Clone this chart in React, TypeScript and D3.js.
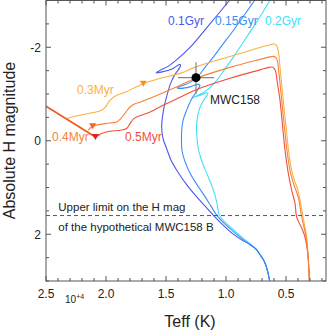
import React from 'react';
import * as d3 from 'd3';

// Teff in units of 10^4 K, absolute H magnitude
const tempMajorTicks = [2.5, 2.0, 1.5, 1.0, 0.5];
const tempTickLabels = ['2.5', '2.0', '1.5', '1.0', '0.5'];
const tempMinorTicks = d3.range(2.5, 0.15, -0.1).map(v => +v.toFixed(2));
const magMajorTicks = [-2, 0, 2];
const magTickLabels = ['-2', '0', '2'];
const magMinorTicks = [-3, -2.5, -1.5, -1, -0.5, 0.5, 1, 1.5, 2.5, 3];

const birthline: [number, number][] = [[2.5, -0.74], [2.088, -0.081]];

const iso03Myr: [number, number][] = [
  [2.328, -0.474], [2.217, -0.544], [2.117, -0.598], [2.036, -0.651], [2.0, -0.737],
  [1.967, -0.865], [1.911, -0.972], [1.842, -1.036], [1.689, -1.221], [1.55, -1.335],
  [1.383, -1.441], [1.25, -1.58], [0.967, -1.804], [0.717, -1.996], [0.625, -2.06],
  [0.6, -2.071], [0.579, -2.039], [0.567, -1.954], [0.558, -1.804], [0.55, -1.576],
  [0.523, -0.865], [0.494, -0.16], [0.479, 0.203], [0.453, 0.63], [0.425, 0.886],
  [0.408, 0.993], [0.383, 1.27], [0.361, 1.591], [0.328, 2.06], [0.317, 2.445], [0.304, 3.043],
];

const iso04Myr: [number, number][] = [
  [2.15, -0.224], [2.111, -0.31], [2.008, -0.367], [1.911, -0.401], [1.883, -0.459],
  [1.842, -0.587], [1.8, -0.722], [1.758, -0.79], [1.717, -0.822], [1.523, -1.025],
  [1.383, -1.185], [1.25, -1.335], [0.967, -1.569], [0.717, -1.74], [0.633, -1.794],
  [0.606, -1.804], [0.583, -1.772], [0.571, -1.698], [0.563, -1.548], [0.536, -0.865],
  [0.508, -0.16], [0.492, 0.203], [0.467, 0.63], [0.439, 0.907], [0.398, 1.206],
  [0.369, 1.633], [0.333, 2.06], [0.317, 2.445], [0.304, 3.043],
];

const iso05Myr: [number, number][] = [
  [2.088, -0.081], [2.067, -0.107], [2.036, -0.154], [1.967, -0.203], [1.883, -0.224],
  [1.828, -0.261], [1.8, -0.367], [1.775, -0.459], [1.744, -0.508], [1.633, -0.615],
  [1.508, -0.779], [1.383, -0.929], [1.25, -1.089], [0.967, -1.335], [0.717, -1.516],
  [0.642, -1.569], [0.619, -1.576], [0.596, -1.537], [0.583, -1.441], [0.575, -1.292],
  [0.55, -0.865], [0.523, -0.16], [0.508, 0.203], [0.481, 0.694], [0.453, 1.057],
  [0.425, 1.334], [0.411, 1.633], [0.369, 1.868], [0.342, 2.06], [0.317, 2.445], [0.304, 3.043],
];

const msTail: [number, number][] = [
  [0.75, 2.317], [0.717, 2.434], [0.692, 2.53], [0.675, 2.616], [0.658, 2.744],
  [0.646, 2.872], [0.633, 3.043],
];

const iso01Gyr: [number, number][] = [
  [0.958, -3.043], [1.158, -2.423], [1.3, -1.996], [1.417, -1.719], [1.483, -1.591],
  [1.55, -1.505], [1.583, -1.452], [1.533, -1.473], [1.45, -1.537], [1.383, -1.633],
  [1.379, -1.601], [1.425, -1.42], [1.458, -1.249], [1.492, -0.972], [1.521, -0.651],
  [1.536, -0.295], [1.525, -0.053], [1.496, 0.16], [1.458, 0.416], [1.4, 0.673],
  [1.325, 0.95], [1.242, 1.206], [1.167, 1.42], [1.106, 1.591], [1.033, 1.783],
  [0.95, 1.975], [0.867, 2.125], [0.8, 2.221], ...msTail,
];

const iso015Gyr: [number, number][] = [
  [0.75, -3.043], [0.85, -2.68], [0.939, -2.359], [1.033, -2.039], [1.106, -1.789],
  [1.175, -1.569], [1.233, -1.377], [1.3, -1.249], [1.367, -1.174], [1.408, -1.132],
  [1.375, -1.121], [1.3, -1.153], [1.233, -1.206], [1.217, -1.185], [1.25, -1.036],
  [1.292, -0.865], [1.328, -0.651], [1.358, -0.438], [1.369, -0.224], [1.371, -0.011],
  [1.367, 0.203], [1.346, 0.416], [1.308, 0.651], [1.25, 0.907], [1.183, 1.164],
  [1.125, 1.399], [1.078, 1.591], [1.017, 1.762], [0.942, 1.932], [0.867, 2.093],
  [0.8, 2.221], ...msTail,
];

const iso02Gyr: [number, number][] = [
  [0.625, -3.043], [0.7, -2.722], [0.773, -2.43], [0.858, -2.103], [0.939, -1.789],
  [1.017, -1.505], [1.078, -1.292], [1.133, -1.142], [1.175, -1.057], [1.225, -0.982],
  [1.267, -0.929], [1.225, -0.961], [1.167, -1.025], [1.15, -1.014], [1.183, -0.886],
  [1.217, -0.715], [1.238, -0.502], [1.246, -0.288], [1.242, -0.075], [1.233, 0.139],
  [1.217, 0.31], [1.192, 0.502], [1.15, 0.758], [1.108, 1.036], [1.075, 1.334],
  [1.056, 1.591], [1.008, 1.74], [0.933, 1.911], [0.858, 2.082], [0.8, 2.199], ...msTail,
];

const triangleMarkers: [number, number][] = [[1.689, -1.221], [2.111, -0.31], [2.088, -0.081]];

const starTeff = 1.25;
const starMag = -1.35;
const starTeffErr = [1.4, 1.1];
const starMagErr = [-1.68, -1.0];
const upperLimitMag = 1.6;

const W = 327, H = 331;
const L = 46, R = 326, T = 0.5, B = 281;
const FONT = 'Liberation Sans, Arial, Helvetica, sans-serif';

export default function App() {
  const x = d3.scaleLinear().domain([2.5, 0.1667]).range([L, R]);
  const y = d3.scaleLinear().domain([-3, 3]).range([T, B]);
  const line = d3.line<[number, number]>().x(d => x(d[0])).y(d => y(d[1])).curve(d3.curveCatmullRom.alpha(0.5));
  const straight = d3.line<[number, number]>().x(d => x(d[0])).y(d => y(d[1]));
  const axisColor = '#555';

  const curves = [
    { d: iso02Gyr, c: '#40e0fb' },
    { d: iso01Gyr, c: '#4a58ea' },
    { d: iso015Gyr, c: '#3a8ef5' },
    { d: iso03Myr, c: '#fbb045' },
    { d: iso05Myr, c: '#f0503c' },
    { d: iso04Myr, c: '#f7823a' },
  ];
  const triColors = ['#f7931e', '#f26522', '#e0201e'];

  return (
    <svg width={W} height={H} style={{ position: 'absolute', left: 0, top: 0, background: '#fff' }} fontFamily={FONT}>
      <defs>
        <clipPath id="plotclip"><rect x={L} y={0} width={R - L} height={B} /></clipPath>
      </defs>
      <g clipPath="url(#plotclip)">
        {curves.map((c, i) => (
          <path key={i} d={line(c.d) || ''} fill="none" stroke={c.c} strokeWidth={1.1} />
        ))}
        <path d={straight(birthline) || ''} fill="none" stroke="#f05a22" strokeWidth={1.8} />
        {triangleMarkers.map((p, i) => {
          const cx = x(p[0]), cy = y(p[1]);
          return <path key={i} d={`M${cx - 3.5},${cy - 3}L${cx + 3.5},${cy - 3}L${cx},${cy + 3}Z`} fill={triColors[i]} />;
        })}
        <line x1={L} x2={R} y1={y(upperLimitMag)} y2={y(upperLimitMag)} stroke="#444" strokeWidth={0.9} strokeDasharray="4,3" />
        <line x1={x(starTeffErr[0])} x2={x(starTeffErr[1])} y1={y(starMag)} y2={y(starMag)} stroke="#888" strokeWidth={1.2} />
        <line x1={x(starTeff)} x2={x(starTeff)} y1={y(starMagErr[0])} y2={y(starMagErr[1])} stroke="#888" strokeWidth={1.2} />
        <circle cx={x(starTeff)} cy={y(starMag)} r={4.5} fill="#000" />
      </g>

      {/* frame */}
      <rect x={L} y={T} width={R - L} height={B - T} fill="none" stroke={axisColor} strokeWidth={1} />
      {tempMinorTicks.map((t, i) => {
        const major = tempMajorTicks.some(m => Math.abs(m - t) < 1e-6);
        const len = major ? 5 : 3;
        return (
          <g key={i} stroke={axisColor} strokeWidth={1}>
            <line x1={x(t)} x2={x(t)} y1={B} y2={B - len} />
            <line x1={x(t)} x2={x(t)} y1={T} y2={T + len} />
          </g>
        );
      })}
      {[...magMinorTicks, ...magMajorTicks].map((m, i) => {
        const major = magMajorTicks.includes(m);
        const len = major ? 5 : 3;
        return (
          <g key={i} stroke={axisColor} strokeWidth={1}>
            <line x1={L} x2={L + len} y1={y(m)} y2={y(m)} />
            <line x1={R} x2={R - len} y1={y(m)} y2={y(m)} />
          </g>
        );
      })}
      {tempMajorTicks.map((t, i) => (
        <text key={i} x={x(t)} y={298} fontSize={12} textAnchor="middle" fill="#222">{tempTickLabels[i]}</text>
      ))}
      {magMajorTicks.map((m, i) => (
        <text key={i} x={41} y={y(m) + 4.3} fontSize={12} textAnchor="end" fill="#222">{magTickLabels[i]}</text>
      ))}
      <text x={65} y={303} fontSize={10} fill="#222">10<tspan dy={-4} fontSize={7}>+4</tspan></text>
      <text x={190} y={327} fontSize={16} textAnchor="middle" fill="#222">Teff (K)</text>
      <text transform={`translate(15,140.5) rotate(-90)`} fontSize={16} textAnchor="middle" fill="#222">Absolute H magnitude</text>

      {/* annotations */}
      <text x={168} y={25} fontSize={12} fill="#4a58ea">0.1Gyr</text>
      <text x={215} y={25} fontSize={12} fill="#3a8ef5">0.15Gyr</text>
      <text x={265} y={25} fontSize={12} fill="#40e0fb">0.2Gyr</text>
      <text x={77} y={94.3} fontSize={12} fill="#fbb045">0.3Myr</text>
      <text x={52} y={141} fontSize={12} fill="#f7823a">0.4Myr</text>
      <text x={125} y={141} fontSize={12} fill="#f0503c">0.5Myr</text>
      <text x={210} y={103.6} fontSize={12} fill="#222">MWC158</text>
      <text x={58.3} y={211.3} fontSize={11.5} fill="#222">Upper limit on the H mag</text>
      <text x={58.3} y={230.5} fontSize={11.5} fill="#222">of the hypothetical MWC158 B</text>
    </svg>
  );
}
